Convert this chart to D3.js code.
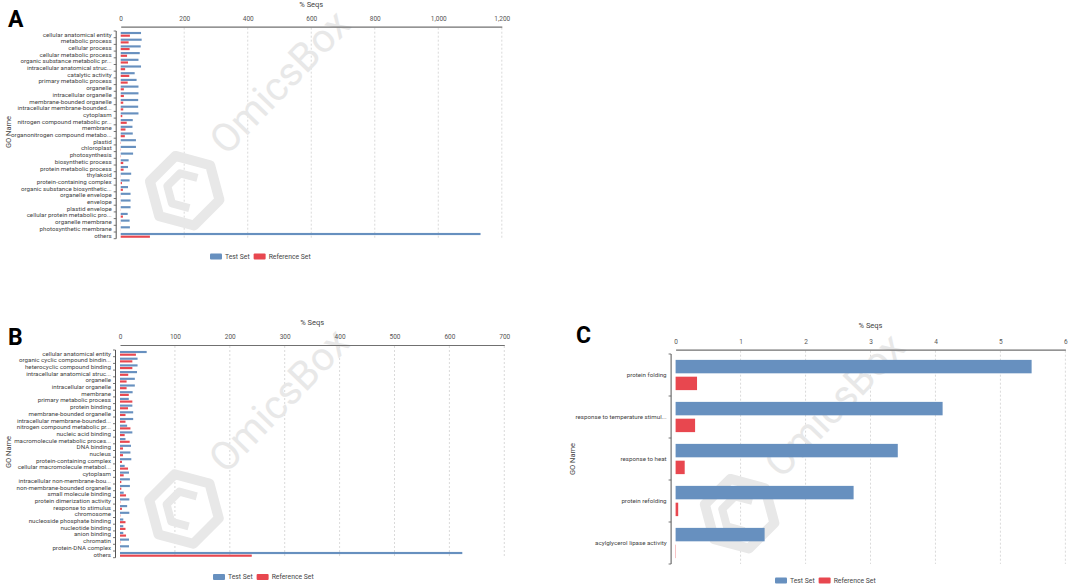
<!DOCTYPE html>
<html>
<head>
<meta charset="utf-8">
<script src="https://cdn.jsdelivr.net/npm/d3@7"></script>
<style>
  body { margin: 0; background: #fff; }
  text { font-family: Roboto, "DejaVu Sans", sans-serif; }
</style>
</head>
<body>
<svg id="chart" width="1072" height="586"></svg>
<script>
// series
var seriesNames = ["Test Set", "Reference Set"];
var colors = ["#6790bf", "#e8474f"];

// Panel A
var goA = ["cellular anatomical entity", "metabolic process", "cellular process", "cellular metabolic process",
  "organic substance metabolic pr...", "intracellular anatomical struc...", "catalytic activity",
  "primary metabolic process", "organelle", "intracellular organelle", "membrane-bounded organelle",
  "intracellular membrane-bounded...", "cytoplasm", "nitrogen compound metabolic pr...", "membrane",
  "organonitrogen compound metabo...", "plastid", "chloroplast", "photosynthesis", "biosynthetic process",
  "protein metabolic process", "thylakoid", "protein-containing complex", "organic substance biosynthetic...",
  "organelle envelope", "envelope", "plastid envelope", "cellular protein metabolic pro...",
  "organelle membrane", "photosynthetic membrane", "others"];
var testA = [64, 66, 63, 60, 56, 64, 44, 50, 56, 56, 55, 55, 56, 38, 37, 38, 48, 48, 39, 25,
  23, 33, 28, 23, 31, 31, 31, 22, 28, 29, 1133];
var refA = [29, 25, 28, 20, 23, 14, 27, 22, 10, 10, 8, 8, 5, 19, 15, 13, 1, 1, 1, 8,
  9, 0.5, 4, 7, 0.5, 0.5, 0.5, 7, 0.5, 0.3, 92];
var ticksA = [0, 200, 400, 600, 800, 1000, 1200];

// Panel B
var goB = ["cellular anatomical entity", "organic cyclic compound bindin...", "heterocyclic compound binding",
  "intracellular anatomical struc...", "organelle", "intracellular organelle", "membrane",
  "primary metabolic process", "protein binding", "membrane-bounded organelle",
  "intracellular membrane-bounded...", "nitrogen compound metabolic pr...", "nucleic acid binding",
  "macromolecule metabolic proces...", "DNA binding", "nucleus", "protein-containing complex",
  "cellular macromolecule metabol...", "cytoplasm", "intracellular non-membrane-bou...",
  "non-membrane-bounded organelle", "small molecule binding", "protein dimerization activity",
  "response to stimulus", "chromosome", "nucleoside phosphate binding", "nucleotide binding",
  "anion binding", "chromatin", "protein-DNA complex", "others"];
var testB = [48.6, 32, 32, 31, 27, 27, 23, 16, 22.5, 24, 24, 13, 22.5, 10, 20, 19, 20.6, 8.5, 16.4,
  18, 18, 6.7, 17, 13, 17, 6, 6, 6, 16.4, 16.4, 623.5];
var refB = [29, 22.5, 22.5, 15, 12, 12, 16, 22.5, 14.6, 10, 10, 19, 8.5, 17.6, 5.5, 5.5, 3.6, 14.6, 6.7,
  2.4, 2.4, 11, 0.6, 3.6, 0.6, 10, 10, 11, 0.6, 0.6, 240];
var ticksB = [0, 100, 200, 300, 400, 500, 600, 700];

// Panel C
var goC = ["protein folding", "response to temperature stimul...", "response to heat",
  "protein refolding", "acylglycerol lipase activity"];
var testC = [5.48, 4.11, 3.42, 2.74, 1.37];
var refC = [0.33, 0.30, 0.14, 0.04, 0.005];
var ticksC = [0, 1, 2, 3, 4, 5, 6];

var svg = d3.select("#chart");

var panels = [
  { letter: "A", lx: 8, ly: 27, cats: goA, test: testA, ref: refA, ticks: ticksA,
    x0: 120.7, x1: 501.8, axisY: 26.7, yTop: 31, yBot: 238.7, titleY: 7,
    goX: 8, goY: 132, legX: 210, legY: 256.5 },
  { letter: "B", lx: 8, ly: 345, cats: goB, test: testB, ref: refB, ticks: ticksB,
    x0: 120, x1: 504.3, axisY: 345, yTop: 350, yBot: 557.7, titleY: 325,
    goX: 8, goY: 452, legX: 213, legY: 577 },
  { letter: "C", lx: 576, ly: 343, cats: goC, test: testC, ref: refC, ticks: ticksC,
    x0: 675.6, x1: 1065.4, axisY: 349.7, yTop: 354, yBot: 564, titleY: 328,
    goX: 572, goY: 459, legX: 775, legY: 580.5 }
];

panels.forEach(drawPanel);

function hexPoints(r, rot) {
  var pts = [];
  for (var i = 0; i < 6; i++) {
    var a = (rot + i * 60) * Math.PI / 180;
    pts.push([r * Math.cos(a), r * Math.sin(a)]);
  }
  return pts;
}

function drawPanel(p) {
  var g = svg.append("g");
  var xMax = p.ticks[p.ticks.length - 1];
  var x = d3.scaleLinear().domain([0, xMax]).range([p.x0, p.x1]);
  var y = d3.scaleBand().domain(p.cats).range([p.yTop, p.yBot]);
  var y1 = d3.scaleBand().domain([0, 1]).range([0, y.bandwidth()])
    .paddingInner(0.2).paddingOuter(0.35);

  // grid lines
  g.selectAll(".grid").data(p.ticks.slice(1)).enter().append("line")
    .attr("x1", function(d) { return x(d); })
    .attr("x2", function(d) { return x(d); })
    .attr("y1", p.axisY + 1).attr("y2", p.yBot)
    .attr("stroke", "#d0d0d0").attr("stroke-width", 0.8)
    .attr("stroke-dasharray", "2,2");

  // watermark
  var wm = g.append("g").attr("transform", "translate(" + p.x0 + "," + p.axisY + ")");
  var hex = wm.append("g").attr("transform", "translate(64,164)");
  hex.append("polygon")
    .attr("points", hexPoints(36, 15).join(" "))
    .attr("fill", "none").attr("stroke", "#e8e8e8").attr("stroke-width", 10)
    .attr("stroke-linejoin", "round");
  hex.append("polyline")
    .attr("points", hexPoints(18, 15).slice(1, 6).join(" "))
    .attr("fill", "none").attr("stroke", "#e8e8e8").attr("stroke-width", 8)
    .attr("stroke-linejoin", "round");
  wm.append("text")
    .attr("transform", "translate(106,130) rotate(-46)")
    .attr("font-size", 40)
    .attr("fill", "#e8e8e8")
    .text("OmicsBox");

  // bars
  var rows = g.selectAll(".row").data(p.cats).enter().append("g")
    .attr("transform", function(d) { return "translate(0," + y(d) + ")"; });
  rows.append("rect")
    .attr("x", x(0))
    .attr("y", y1(0))
    .attr("height", y1.bandwidth())
    .attr("width", function(d, i) { return x(p.test[i]) - x(0); })
    .attr("fill", colors[0]);
  rows.append("rect")
    .attr("x", x(0))
    .attr("y", y1(1))
    .attr("height", y1.bandwidth())
    .attr("width", function(d, i) { return x(p.ref[i]) - x(0); })
    .attr("fill", colors[1]);

  // top axis
  var xAxis = d3.axisTop(x).tickValues(p.ticks).tickSize(0).tickPadding(6)
    .tickFormat(d3.format(","));
  var ax = g.append("g").attr("transform", "translate(0," + p.axisY + ")").call(xAxis);
  ax.select(".domain").attr("stroke", "#707070").attr("stroke-width", 1.2);
  ax.selectAll("text").attr("font-size", 6.5).attr("fill", "#555")
    .attr("font-family", "Roboto, sans-serif");

  g.append("text")
    .attr("x", (p.x0 + p.x1) / 2).attr("y", p.titleY)
    .attr("text-anchor", "middle").attr("font-size", 7.5).attr("fill", "#444")
    .text("% Seqs");

  // left axis: line + ticks at band edges
  var axX = p.x0 - 4.5;
  g.append("line")
    .attr("x1", axX).attr("x2", axX).attr("y1", p.yTop).attr("y2", p.yBot)
    .attr("stroke", "#555").attr("stroke-width", 1);
  var edges = p.cats.map(function(d) { return y(d); }).concat([p.yBot]);
  g.selectAll(".ytick").data(edges).enter().append("line")
    .attr("x1", axX - 2.5).attr("x2", axX)
    .attr("y1", function(d) { return d; }).attr("y2", function(d) { return d; })
    .attr("stroke", "#555").attr("stroke-width", 0.8);
  g.selectAll(".ylab").data(p.cats).enter().append("text")
    .attr("x", p.x0 - 9)
    .attr("y", function(d) { return y(d) + y.bandwidth() / 2; })
    .attr("dy", "0.35em")
    .attr("text-anchor", "end").attr("font-size", 6.2).attr("fill", "#444")
    .text(function(d) { return d; });

  g.append("text")
    .attr("transform", "translate(" + p.goX + "," + p.goY + ") rotate(-90)")
    .attr("text-anchor", "middle").attr("dy", "0.35em")
    .attr("font-size", 7.5).attr("fill", "#444")
    .text("GO Name");

  // panel letter
  g.append("text")
    .attr("x", p.lx).attr("y", p.ly)
    .attr("font-family", "'Liberation Sans', Arial, sans-serif")
    .attr("font-weight", "bold").attr("font-size", 23).attr("fill", "#000")
    .text(p.letter);

  // legend
  var leg = g.append("g").attr("transform", "translate(" + p.legX + "," + p.legY + ")");
  var lx = 0;
  seriesNames.forEach(function(name, i) {
    leg.append("rect").attr("x", lx).attr("y", -3).attr("width", 12).attr("height", 6)
      .attr("rx", 1).attr("fill", colors[i]);
    var t = leg.append("text").attr("x", lx + 15).attr("y", 0).attr("dy", "0.35em")
      .attr("font-size", 6.8).attr("fill", "#444").text(name);
    lx += 15 + t.node().getComputedTextLength() + 4;
  });
}
</script>
</body>
</html>
